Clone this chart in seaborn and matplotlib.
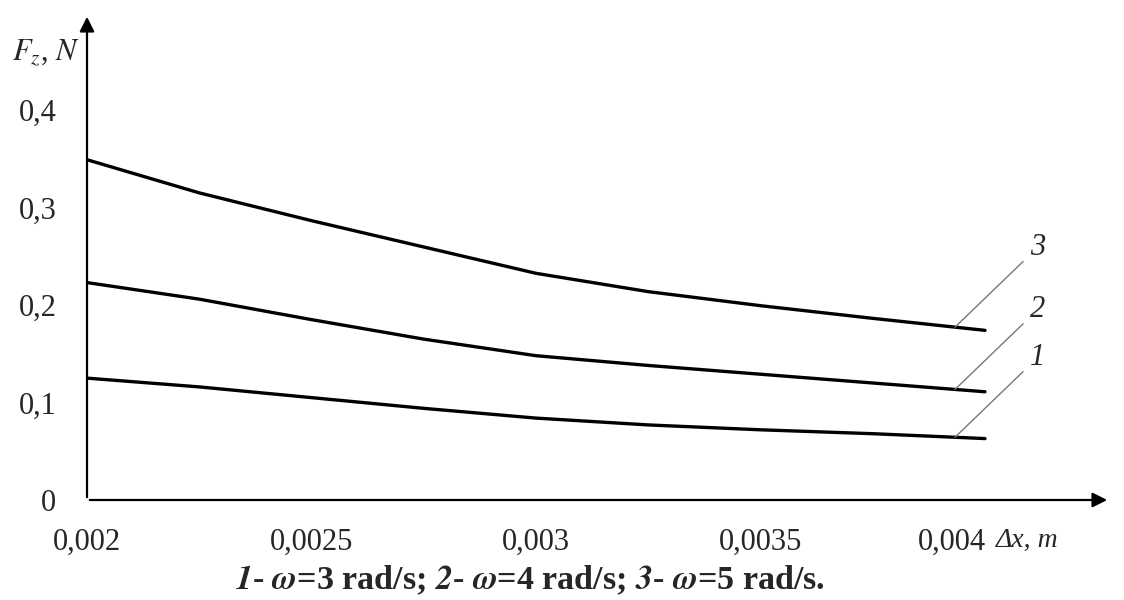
import numpy as np
import pandas as pd
import matplotlib.pyplot as plt
import matplotlib.transforms as mtransforms
import seaborn as sns

# values
dx = [0.002, 0.00225, 0.0025, 0.00275, 0.003, 0.00325, 0.0035, 0.00375, 0.004]
fz_w3 = [0.125, 0.116, 0.105, 0.094, 0.084, 0.077, 0.072, 0.068, 0.063]
fz_w4 = [0.223, 0.206, 0.185, 0.165, 0.148, 0.138, 0.129, 0.120, 0.111]
fz_w5 = [0.349, 0.315, 0.2865, 0.2595, 0.2325, 0.2137, 0.1993, 0.1863, 0.174]
curve_names = ['1', '2', '3']

x_ticks = [0.002, 0.0025, 0.003, 0.0035, 0.004]
x_tick_labels = ['0,002', '0,0025', '0,003', '0,0035', '0,004']
y_ticks = [0, 0.1, 0.2, 0.3, 0.4]
y_tick_labels = ['0', '0,1', '0,2', '0,3', '0,4']

df = pd.DataFrame({
    'dx': dx * 3,
    'fz': fz_w3 + fz_w4 + fz_w5,
    'curve': np.repeat(curve_names, len(dx)),
})

sns.set_style('white')
plt.rcParams['font.family'] = ['Liberation Serif', 'DejaVu Serif']
plt.rcParams['mathtext.fontset'] = 'stix'

fig = plt.figure(figsize=(11.24, 6), dpi=100)
ax = fig.add_axes([87 / 1124, 100 / 600, 1023 / 1124, 486 / 600])

sns.lineplot(data=df, x='dx', y='fz', hue='curve', palette=['black'] * 3,
             linewidth=2.4, legend=False, ax=ax)

ax.set_xlim(0.002, 0.002 + 1023 / 449000)
ax.set_ylim(0, 486 / 975)
ax.set_xticks(x_ticks, x_tick_labels, fontsize=22)
ax.set_yticks(y_ticks, y_tick_labels, fontsize=22)
ax.tick_params(axis='x', length=0, pad=20)
ax.tick_params(axis='y', length=0, pad=22)
ax.set_xlabel('')
ax.set_ylabel('')
for s in ax.spines.values():
    s.set_visible(False)

# last x label sits a bit to the left, leaving room for the axis name
last = ax.get_xticklabels()[-1]
last.set_transform(last.get_transform() + mtransforms.ScaledTranslation(-0.33, 0, fig.dpi_scale_trans))

# axes with arrow heads
arrow = dict(arrowstyle='-|>', lw=1.6, color='black', mutation_scale=22)
ax.annotate('', xy=(1, 0), xytext=(0, 0), xycoords='axes fraction', arrowprops=arrow)
ax.annotate('', xy=(0, 1), xytext=(0, 0), xycoords='axes fraction', arrowprops=arrow)

ax.text(-0.007, 0.92, r'$F_z$, $N$', transform=ax.transAxes, fontsize=22,
        ha='right', va='center')
ax.text(1 - 114 / 1023, -40 / 486, 'Δx, m', transform=ax.transAxes, fontsize=20,
        fontstyle='italic', ha='left', va='center')

# curve numbers with leader lines
x_lead = 0.002 + 868 / 449000
for name, fz in zip(curve_names, [fz_w3, fz_w4, fz_w5]):
    ax.annotate(name, xy=(x_lead, np.interp(x_lead, dx, fz)), xytext=(83, 80),
                textcoords='offset pixels', fontsize=22, fontstyle='italic',
                ha='center', va='center',
                arrowprops=dict(arrowstyle='-', color='#777777', lw=1,
                                shrinkA=4, shrinkB=0))

fig.text(530 / 1124, 1 - 580 / 600,
         r'$\mathbfit{1}$- $\mathbfit{\omega}$=3 rad/s; $\mathbfit{2}$- $\mathbfit{\omega}$=4 rad/s; '
         r'$\mathbfit{3}$- $\mathbfit{\omega}$=5 rad/s.',
         fontsize=24.5, fontweight='bold', ha='center', va='center')

fig.savefig('out.png', dpi=100)
